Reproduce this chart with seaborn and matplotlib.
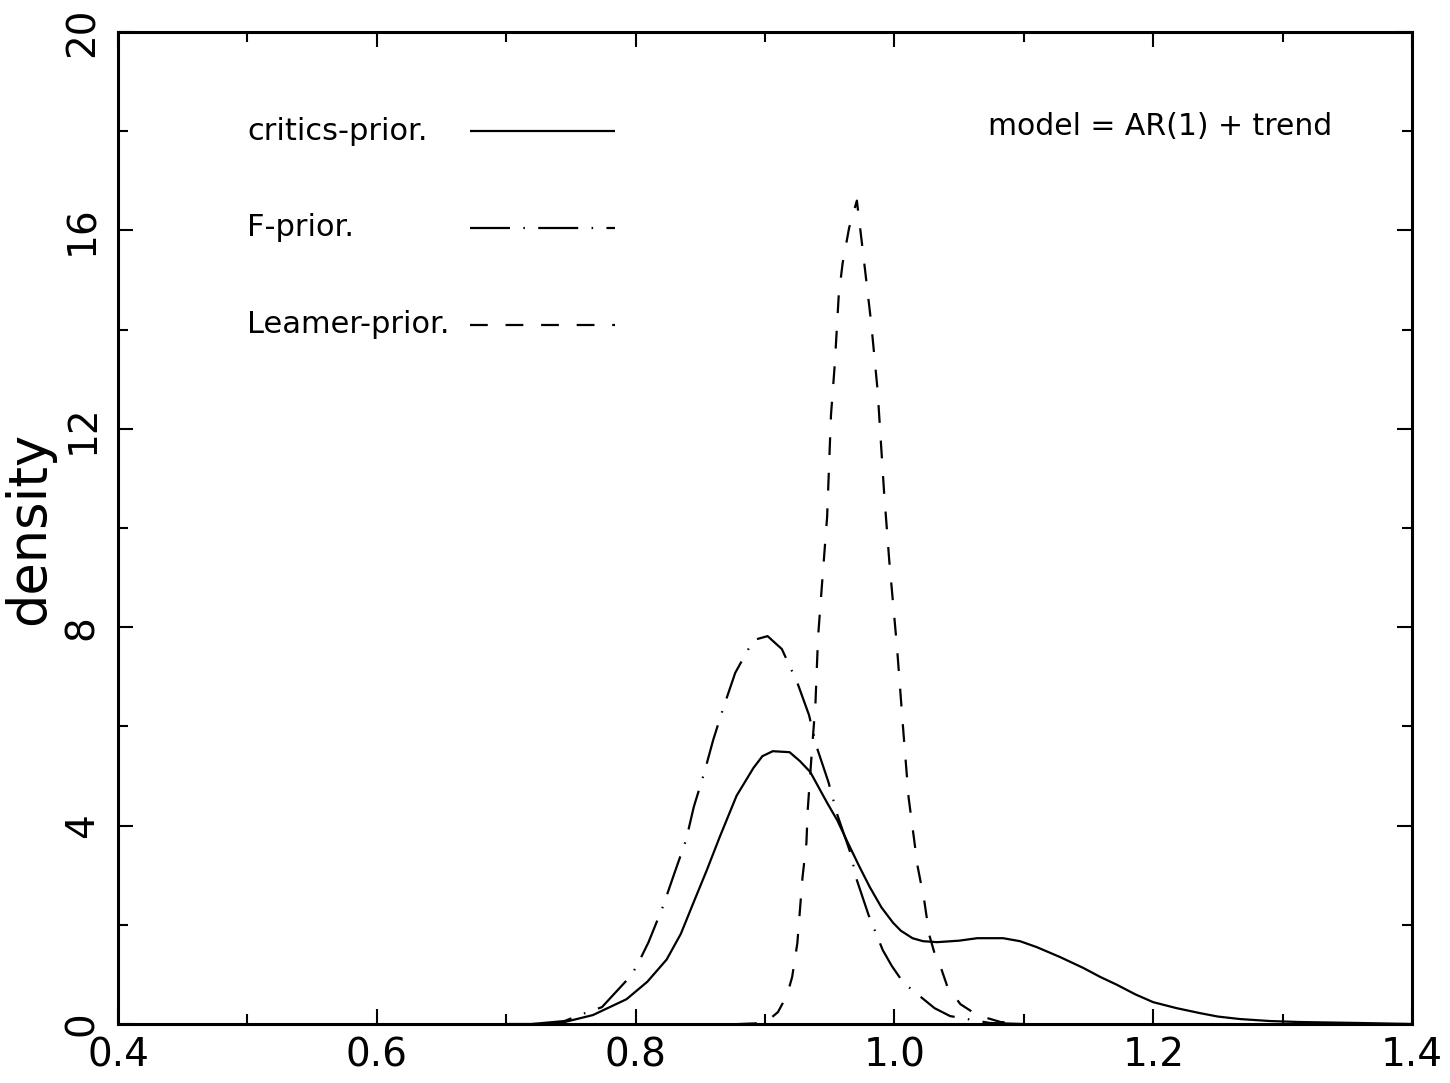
import matplotlib
matplotlib.use("Agg")
import matplotlib.pyplot as plt
from matplotlib.ticker import MultipleLocator
import pandas as pd
import seaborn as sns

# ===== data =====
critics_x = [0.700, 0.726, 0.742, 0.767, 0.793, 0.809, 0.824, 0.835, 0.844, 0.855,
             0.865, 0.878, 0.891, 0.898, 0.906, 0.919, 0.927, 0.935, 0.948, 0.956,
             0.963, 0.973, 0.981, 0.990, 0.999, 1.005, 1.014, 1.022, 1.033, 1.050,
             1.064, 1.084, 1.097, 1.110, 1.128, 1.146, 1.159, 1.172, 1.186, 1.200,
             1.218, 1.236, 1.250, 1.267, 1.290, 1.313, 1.360, 1.400]
critics_y = [0.00, 0.00, 0.02, 0.18, 0.50, 0.85, 1.30, 1.82, 2.40, 3.10,
             3.77, 4.60, 5.16, 5.40, 5.50, 5.48, 5.30, 5.08, 4.46, 4.10,
             3.71, 3.17, 2.76, 2.35, 2.04, 1.88, 1.73, 1.67, 1.65, 1.68,
             1.73, 1.73, 1.67, 1.55, 1.35, 1.13, 0.95, 0.79, 0.60, 0.44,
             0.32, 0.22, 0.15, 0.10, 0.06, 0.04, 0.02, 0.00]

fprior_x = [0.720, 0.745, 0.761, 0.774, 0.797, 0.804, 0.810, 0.821, 0.830, 0.839,
            0.845, 0.853, 0.860, 0.868, 0.877, 0.891, 0.902, 0.913, 0.925, 0.934,
            0.940, 0.949, 0.956, 0.966, 0.971, 0.980, 0.991, 0.998, 1.007, 1.031,
            1.043, 1.074, 1.100]
fprior_y = [0.00, 0.06, 0.22, 0.34, 0.99, 1.33, 1.65, 2.36, 3.04, 3.71,
            4.38, 5.06, 5.73, 6.39, 7.08, 7.74, 7.82, 7.56, 6.88, 6.23,
            5.58, 4.88, 4.21, 3.45, 2.90, 2.20, 1.49, 1.17, 0.83, 0.32,
            0.16, 0.02, 0.00]

leamer_x = [0.880, 0.900, 0.910, 0.917, 0.921, 0.925, 0.927, 0.929, 0.932, 0.933,
            0.936, 0.939, 0.941, 0.944, 0.948, 0.951, 0.954, 0.957, 0.960, 0.965,
            0.971, 0.976, 0.982, 0.987, 0.992, 0.996, 1.002, 1.007, 1.011, 1.018,
            1.023, 1.027, 1.031, 1.036, 1.041, 1.051, 1.064, 1.082, 1.100]
leamer_y = [0.00, 0.02, 0.24, 0.58, 0.95, 1.63, 2.30, 2.96, 3.65, 4.31,
            5.42, 6.47, 7.80, 8.85, 10.22, 12.28, 13.33, 14.70, 15.34, 16.05,
            16.60, 15.50, 14.15, 12.78, 10.73, 9.35, 7.60, 5.87, 4.56, 3.17,
            2.50, 1.79, 1.43, 1.13, 0.75, 0.40, 0.18, 0.04, 0.00]

prior_names = ["critics-prior.", "F-prior.", "Leamer-prior."]
model_text = "model = AR(1) + trend"

# ===== styling =====
sns.set_theme(style="ticks")
plt.rcParams['font.family'] = ['DejaVu Sans']

df = pd.concat([
    pd.DataFrame({"x": critics_x, "density": critics_y, "prior": prior_names[0]}),
    pd.DataFrame({"x": fprior_x, "density": fprior_y, "prior": prior_names[1]}),
    pd.DataFrame({"x": leamer_x, "density": leamer_y, "prior": prior_names[2]}),
], ignore_index=True)

dash_map = {
    prior_names[0]: "",
    prior_names[1]: (18, 6, 0.7, 6),
    prior_names[2]: (8, 8),
}

fig = plt.figure(figsize=(14.5, 10.83), dpi=100)
ax = fig.add_axes([118 / 1450, 59 / 1083, 1294 / 1450, 992 / 1083])

sns.lineplot(data=df, x="x", y="density", style="prior", dashes=dash_map,
             color="black", linewidth=1.6, estimator=None, sort=False,
             legend=False, ax=ax)

ax.set_xlim(0.4, 1.4)
ax.set_ylim(0, 20)
ax.xaxis.set_major_locator(MultipleLocator(0.2))
ax.xaxis.set_minor_locator(MultipleLocator(0.1))
ax.yaxis.set_major_locator(MultipleLocator(4))
ax.yaxis.set_minor_locator(MultipleLocator(2))
ax.set_xticklabels([f"{v:.1f}" for v in ax.get_xticks()])

ax.tick_params(which="both", direction="in", top=True, right=True,
               color="black", width=1.5, labelsize=28, labelcolor="black")
ax.tick_params(which="major", length=11)
ax.tick_params(which="minor", length=7)
ax.tick_params(axis="x", pad=9)
ax.tick_params(axis="y", labelrotation=90, pad=12)
for lab in ax.get_yticklabels():
    lab.set_va("center")

for sp in ax.spines.values():
    sp.set_visible(True)
    sp.set_color("black")
    sp.set_linewidth(2.2)

ax.set_xlabel("")
ax.set_ylabel("density", fontsize=38, color="black", labelpad=6)

# hand-drawn style key, as in the original
key_y = [18.0, 16.05, 14.1]
for name, yk in zip(prior_names, key_y):
    ax.text(0.5, yk, name, fontsize=22, va="center", ha="left", color="black")
    ax.plot([0.672, 0.784], [yk, yk], color="black", linewidth=1.6,
            dashes=dash_map[name] if dash_map[name] else (1, 0))
ax.text(1.072, 18.1, model_text, fontsize=21.5, va="center", ha="left", color="black")

fig.savefig("out.png", dpi=100, facecolor="white")
